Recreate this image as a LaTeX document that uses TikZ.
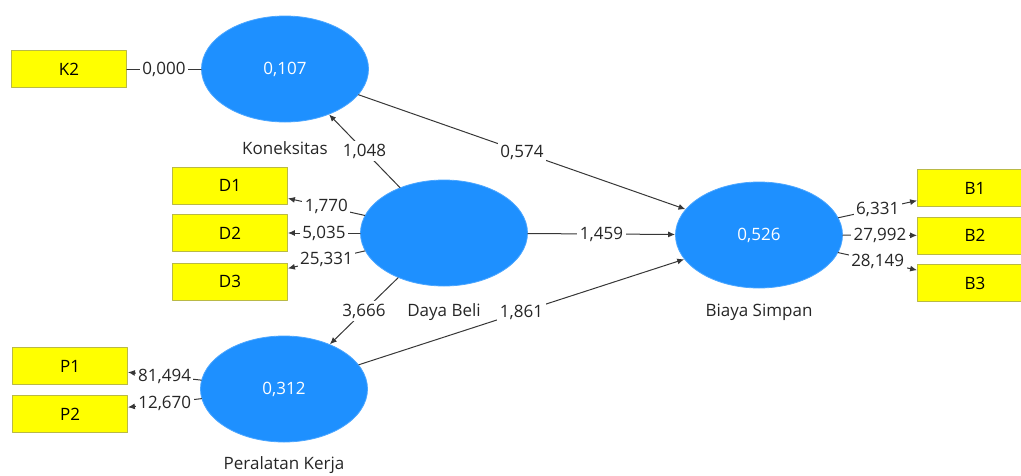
\documentclass[tikz,border=0pt]{standalone}
\usepackage{fontspec}
\setmainfont{Open Sans}
\usetikzlibrary{arrows.meta, positioning, shapes.geometric}

\definecolor{lvblue}{RGB}{30,144,255}
\definecolor{mvyellow}{RGB}{255,255,0}
\definecolor{mvedge}{RGB}{185,185,70}
\definecolor{pathgray}{RGB}{55,55,55}

\begin{document}
\begin{tikzpicture}[x=1pt, y=-1pt, >={Latex[length=7pt, width=6pt]}, line cap=round, line join=round]
	
	\def\fs{\fontsize{17}{20}\selectfont}
	
	\tikzset{
		latent/.style={ellipse, fill=lvblue, draw=lvblue!80!white, line width=0.8pt, minimum width=167pt, minimum height=106pt, inner sep=0pt, text=white, font=\fs},
		manifest/.style={rectangle, fill=mvyellow, draw=mvedge, line width=0.8pt, minimum width=115pt, minimum height=37pt, inner sep=0pt, font=\fs},
		lvname/.style={anchor=base, font=\fs, text=black!85},
		coef/.style={fill=white, inner sep=2.5pt, font=\fs, text=black!85},
		link/.style={draw=pathgray, line width=1pt}
	}
	
	\useasboundingbox (0,0) rectangle (1021,475);
	
	% latent variables
	\node[latent] (kon) at (285,69)  {0,107};
	\node[latent] (db)  at (444,233) {};
	\node[latent] (pk)  at (284,389) {0,312};
	\node[latent] (bs)  at (759,235) {0,526};
	
	\node[lvname] (konname) at (285,154) {Koneksitas};
	\node[lvname] (dbname)  at (444,316) {Daya Beli};
	\node[lvname] (pkname)  at (284,469) {Peralatan Kerja};
	\node[lvname] (bsname)  at (759,316) {Biaya Simpan};
	
	% indicators
	\node[manifest] (k2) at (69,69)    {K2};
	\node[manifest] (d1) at (230,185.5) {D1};
	\node[manifest] (d2) at (230,233)  {D2};
	\node[manifest] (d3) at (230,281.5) {D3};
	\node[manifest] (p1) at (70,366)   {P1};
	\node[manifest] (p2) at (70,414)   {P2};
	\node[manifest] (b1) at (975,188)  {B1};
	\node[manifest] (b2) at (975,235.5) {B2};
	\node[manifest] (b3) at (975,283)  {B3};
	
	% outer model
	\draw[link]    (kon) -- node[coef] {0,000} (k2);
	\draw[link,->] (db) -- node[coef] {1,770} (d1);
	\draw[link,->] (db) -- node[coef] {5,035} (d2);
	\draw[link,->] (db) -- node[coef] {25,331} (d3);
	\draw[link,->] (pk) -- node[coef] {81,494} (p1);
	\draw[link,->] (pk) -- node[coef] {12,670} (p2);
	\draw[link,->] (bs) -- node[coef] {6,331} (b1);
	\draw[link,->] (bs) -- node[coef] {27,992} (b2);
	\draw[link,->] (bs) -- node[coef] {28,149} (b3);
	
	% inner model
	\draw[link,->] (db)  -- node[coef] {1,048} (kon);
	\draw[link,->] (db)  -- node[coef] {3,666} (pk);
	\draw[link,->] (kon) -- node[coef] {0,574} (bs);
	\draw[link,->] (db)  -- node[coef] {1,459} (bs);
	\draw[link,->] (pk)  -- node[coef] {1,861} (bs);
	
\end{tikzpicture}
\end{document}
